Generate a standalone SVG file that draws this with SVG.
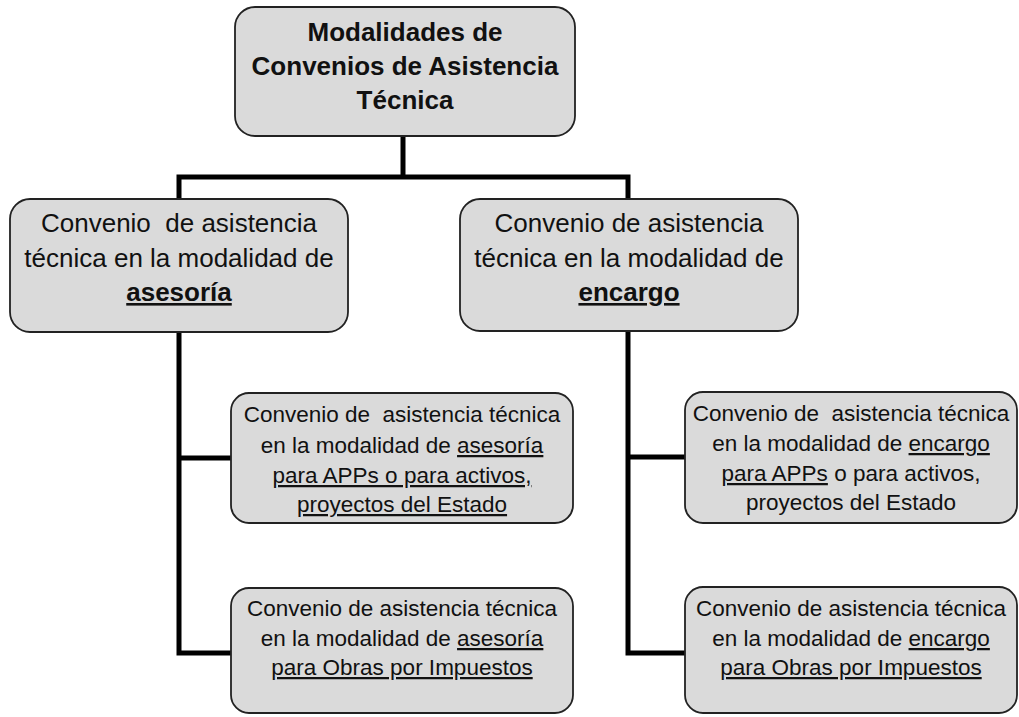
<svg xmlns="http://www.w3.org/2000/svg" width="1019" height="717" viewBox="0 0 1019 717">
<style>
.box{fill:#dadada;stroke:#222;stroke-width:1.8}
.t{font-family:"Liberation Sans",Arial,sans-serif;fill:#111;text-anchor:middle}
.h{font-size:26px;font-weight:bold}
.m{font-size:26px}
.s{font-size:22.5px}
.u{text-decoration:underline}
.b{font-weight:bold}
.c{fill:none;stroke:#000;stroke-width:5;stroke-linejoin:miter}
</style>
<rect width="1019" height="717" fill="#fff"/>
<g id="connectors">
<path class="c" d="M403 136 V177"/>
<path class="c" d="M179 200 V177 H628 V199"/>
<path class="c" d="M179 332 V653 H231"/>
<path class="c" d="M179 458 H231"/>
<path class="c" d="M628 331 V653 H685"/>
<path class="c" d="M628 457 H685"/>
</g>
<g id="root">
<rect class="box" x="235" y="7" width="340" height="129" rx="20"/>
<text class="t h" x="405" y="41">Modalidades de</text>
<text class="t h" x="405" y="75">Convenios de Asistencia</text>
<text class="t h" x="405" y="109">Técnica</text>
</g>
<g id="asesoria">
<rect class="box" x="10" y="199" width="338" height="133" rx="20"/>
<text class="t m" x="179" y="232" xml:space="preserve">Convenio  de asistencia</text>
<text class="t m" x="179" y="267">técnica en la modalidad de</text>
<text class="t m" x="179" y="301"><tspan class="b u">asesoría</tspan></text>
</g>
<g id="encargo">
<rect class="box" x="460" y="199" width="338" height="132" rx="20"/>
<text class="t m" x="629" y="232">Convenio de asistencia</text>
<text class="t m" x="629" y="267">técnica en la modalidad de</text>
<text class="t m" x="629" y="301"><tspan class="b u">encargo</tspan></text>
</g>
<g id="asesoria-app">
<rect class="box" x="231" y="393" width="342" height="130" rx="18"/>
<text class="t s" x="402" y="422" xml:space="preserve">Convenio de  asistencia técnica</text>
<text class="t s" x="402" y="453">en la modalidad de <tspan class="u">asesoría</tspan></text>
<text class="t s" x="402" y="483"><tspan class="u">para APPs o para activos,</tspan></text>
<text class="t s" x="402" y="512"><tspan class="u">proyectos del Estado</tspan></text>
</g>
<g id="asesoria-oxi">
<rect class="box" x="231" y="588" width="342" height="125" rx="18"/>
<text class="t s" x="402" y="616">Convenio de asistencia técnica</text>
<text class="t s" x="402" y="646">en la modalidad de <tspan class="u">asesoría</tspan></text>
<text class="t s" x="402" y="675"><tspan class="u">para Obras por Impuestos</tspan></text>
</g>
<g id="encargo-app">
<rect class="box" x="685" y="392" width="332" height="131" rx="18"/>
<text class="t s" x="851" y="421" xml:space="preserve">Convenio de  asistencia técnica</text>
<text class="t s" x="851" y="451">en la modalidad de <tspan class="u">encargo</tspan></text>
<text class="t s" x="851" y="481"><tspan class="u">para APPs</tspan> o para activos,</text>
<text class="t s" x="851" y="510">proyectos del Estado</text>
</g>
<g id="encargo-oxi">
<rect class="box" x="685" y="587" width="332" height="126" rx="18"/>
<text class="t s" x="851" y="616">Convenio de asistencia técnica</text>
<text class="t s" x="851" y="646">en la modalidad de <tspan class="u">encargo</tspan></text>
<text class="t s" x="851" y="675"><tspan class="u">para Obras por Impuestos</tspan></text>
</g>
</svg>
